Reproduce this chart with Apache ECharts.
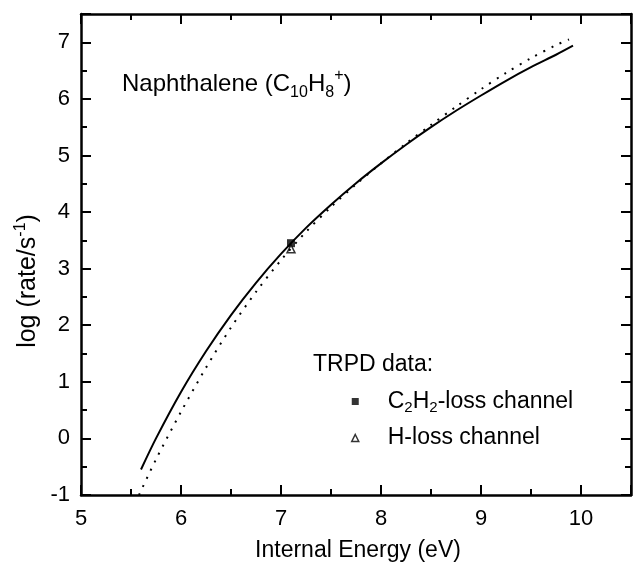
<!DOCTYPE html>
<html>
<head>
<meta charset="utf-8">
<script src="https://cdn.jsdelivr.net/npm/echarts@6/dist/echarts.min.js"></script>
<style>
  html, body {margin: 0; padding: 0; background: #fff;}
  #chart {width: 633px; height: 567px;}
</style>
</head>
<body>
<div id="chart"></div>
<script>
// solid curve (calculated rate)
var solidX = [5.6, 5.75, 6.0, 6.25, 6.5, 6.75, 7.0, 7.25, 7.5, 7.75, 8.0, 8.25, 8.5, 8.75, 9.0, 9.25, 9.5, 9.75, 9.92];
var solidY = [-0.55, 0.0, 0.82, 1.54, 2.18, 2.75, 3.26, 3.72, 4.13, 4.51, 4.86, 5.19, 5.5, 5.79, 6.06, 6.32, 6.56, 6.78, 6.94];
// dotted curve
var dotX = [5.58, 5.75, 6.0, 6.25, 6.5, 6.75, 7.0, 7.25, 7.5, 7.75, 8.0, 8.25, 8.5, 8.75, 9.0, 9.25, 9.5, 9.75, 9.88];
var dotY = [-1.0, -0.37, 0.47, 1.25, 1.96, 2.59, 3.15, 3.65, 4.09, 4.49, 4.86, 5.21, 5.54, 5.86, 6.17, 6.46, 6.72, 6.95, 7.05];
// TRPD data points
var c2h2Point = [[7.1, 3.45]];
var hPoint = [[7.1, 3.35]];

var FONT = 'Liberation Sans, Arial, Helvetica, sans-serif';

function zip(xs, ys) {
    var out = [];
    for (var i = 0; i < xs.length; i++) out.push([xs[i], ys[i]]);
    return out;
}

var chart = echarts.init(document.getElementById('chart'));

var axisLine = {onZero: false, lineStyle: {color: '#000', width: 2.5}};
var tick = {inside: true, length: 10, lineStyle: {color: '#000', width: 2}};
var minor = {show: true, splitNumber: 2, length: 6, lineStyle: {color: '#000', width: 2}};

option = {
    backgroundColor: '#fff',
    animation: false,
    grid: {left: 81, right: 2, top: 14, bottom: 72},
    xAxis: [
        {type: 'value', min: 5, max: 10.5, interval: 1, position: 'bottom', axisLine: axisLine, axisTick: tick, minorTick: minor, splitLine: {show: false},
         axisLabel: {color: '#000', fontSize: 22, fontFamily: FONT, margin: 13, showMaxLabel: false}},
        {type: 'value', min: 5, max: 10.5, interval: 1, position: 'top', axisLine: axisLine, axisTick: tick, minorTick: minor, splitLine: {show: false}, axisLabel: {show: false}}
    ],
    yAxis: [
        {type: 'value', min: -1, max: 7.5, interval: 1, position: 'left', axisLine: axisLine, axisTick: tick, minorTick: minor, splitLine: {show: false},
         axisLabel: {color: '#000', fontSize: 22, fontFamily: FONT, margin: 11, showMaxLabel: false}},
        {type: 'value', min: -1, max: 7.5, interval: 1, position: 'right', axisLine: axisLine, axisTick: tick, minorTick: minor, splitLine: {show: false}, axisLabel: {show: false}}
    ],
    legend: {
        orient: 'vertical', left: 346, top: 385, itemWidth: 7, itemHeight: 7, itemGap: 11,
        data: [{name: 'C2H2-loss channel', icon: 'rect'}, {name: 'H-loss channel', icon: 'triangle', itemStyle: {color: '#fff', borderColor: '#000', borderWidth: 1.5}}],
        formatter: function (name) {
            if (name === 'C2H2-loss channel') return '{a|C}{sub|2}{a|H}{sub|2}{a|-loss channel}';
            return '{a|' + name + '}';
        },
        textStyle: {padding: [0, 0, 0, 24], rich: {
            a: {fontSize: 23, fontFamily: FONT, color: '#000', lineHeight: 28},
            sub: {fontSize: 15, fontFamily: FONT, color: '#000', lineHeight: 15, verticalAlign: 'bottom'}
        }}
    },
    graphic: [
        {type: 'text', left: 122, top: 68, style: {
            text: '{a|Naphthalene (C}{sub|10}{a|H}{sub|8}{sup|+}{a|)}',
            rich: {
                a: {fontSize: 24, fontFamily: FONT, fill: '#000', lineHeight: 33},
                sub: {fontSize: 16, fontFamily: FONT, fill: '#000', lineHeight: 16, verticalAlign: 'bottom'},
                sup: {fontSize: 16, fontFamily: FONT, fill: '#000', lineHeight: 16, verticalAlign: 'top'}
            }}},
        {type: 'text', left: 313, top: 353, style: {text: 'TRPD data:', font: '23px ' + FONT, fill: '#000'}},
        {type: 'text', x: 358, y: 551, style: {text: 'Internal Energy (eV)', font: '23px ' + FONT, fill: '#000', align: 'center', verticalAlign: 'middle'}},
        {type: 'text', x: 28, y: 281, rotation: Math.PI / 2, style: {
            text: '{a|log (rate/s}{sup|-1}{a|)}', align: 'center', verticalAlign: 'middle',
            rich: {
                a: {fontSize: 25, fontFamily: FONT, fill: '#000', lineHeight: 30},
                sup: {fontSize: 16, fontFamily: FONT, fill: '#000', lineHeight: 16, verticalAlign: 'top'}
            }}}
    ],
    series: [
        {name: 'calc', type: 'line', data: zip(solidX, solidY), smooth: 0.3, showSymbol: false, lineStyle: {color: '#000', width: 2}},
        {name: 'calc2', type: 'line', data: zip(dotX, dotY), smooth: 0.3, showSymbol: false, lineStyle: {color: '#000', width: 2, type: [2, 7]}},
        {name: 'C2H2-loss channel', type: 'scatter', data: c2h2Point, symbol: 'rect', symbolSize: 8, itemStyle: {color: '#000'}},
        {name: 'H-loss channel', type: 'scatter', data: hPoint, symbol: 'triangle', symbolSize: 8, itemStyle: {color: '#fff', borderColor: '#000', borderWidth: 1.5}}
    ]
};

chart.setOption(option);
</script>
</body>
</html>
